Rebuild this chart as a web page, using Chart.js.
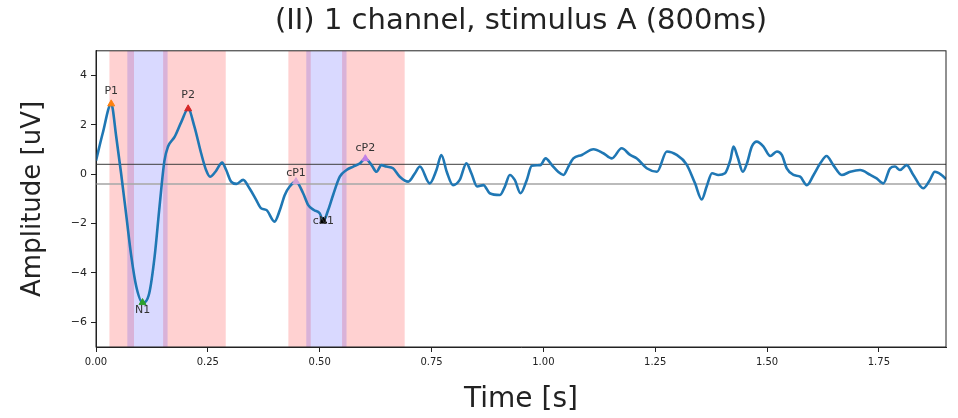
<!DOCTYPE html>
<html lang="en">
<head>
<meta charset="UTF-8">
<title>(II) 1 channel, stimulus A (800ms)</title>
<script src="https://cdn.jsdelivr.net/npm/chart.js"></script>
<style>
  html, body { margin: 0; padding: 0; background: #fff; }
  #wrap { width: 958px; height: 418px; }
</style>
</head>
<body>
<div id="wrap"><canvas id="erp"></canvas></div>
<script>
// ERP trace: time (s) and amplitude (uV)
const times = [
  0.000, 0.015, 0.034, 0.045, 0.056, 0.068, 0.079, 0.090, 0.104, 0.119,
  0.131, 0.142, 0.153, 0.161, 0.176, 0.191, 0.206, 0.220, 0.235, 0.246,
  0.255, 0.267, 0.282, 0.291, 0.302, 0.314, 0.329, 0.343, 0.358, 0.369,
  0.381, 0.399, 0.411, 0.422, 0.433, 0.447, 0.463, 0.474, 0.487, 0.500,
  0.508, 0.519, 0.530, 0.545, 0.560, 0.575, 0.590, 0.602, 0.616, 0.627,
  0.638, 0.649, 0.664, 0.679, 0.698, 0.713, 0.724, 0.746, 0.761, 0.772,
  0.784, 0.798, 0.813, 0.828, 0.839, 0.852, 0.866, 0.880, 0.903, 0.914,
  0.925, 0.936, 0.949, 0.963, 0.974, 0.993, 1.005, 1.019, 1.033, 1.045,
  1.056, 1.067, 1.086, 1.112, 1.134, 1.153, 1.175, 1.194, 1.209, 1.231,
  1.254, 1.276, 1.298, 1.320, 1.339, 1.354, 1.365, 1.377, 1.391, 1.406,
  1.418, 1.425, 1.434, 1.446, 1.455, 1.466, 1.477, 1.492, 1.507, 1.522,
  1.533, 1.544, 1.559, 1.574, 1.589, 1.604, 1.619, 1.633, 1.648, 1.667,
  1.686, 1.708, 1.731, 1.745, 1.760, 1.775, 1.786, 1.797, 1.812, 1.827,
  1.849, 1.864, 1.875, 1.890, 1.900
];
const amplitude = [
  0.55, 1.66, 2.85, 1.55, 0.05, -1.72, -3.34, -4.55, -5.20, -4.82,
  -3.34, -1.31, 0.55, 1.12, 1.52, 2.13, 2.65, 1.93, 0.85, 0.17,
  -0.10, 0.10, 0.47, 0.17, -0.30, -0.39, -0.23, -0.57, -1.04, -1.38,
  -1.45, -1.92, -1.45, -0.84, -0.50, -0.30, -0.77, -1.24, -1.45, -1.58,
  -1.90, -1.45, -0.84, -0.10, 0.17, 0.31, 0.44, 0.63, 0.37, 0.10,
  0.37, 0.31, 0.24, -0.10, -0.30, 0.04, 0.31, -0.37, 0.17, 0.78,
  0.10, -0.44, -0.23, 0.44, 0.04, -0.50, -0.44, -0.77, -0.84, -0.50,
  -0.03, -0.23, -0.77, -0.23, 0.34, 0.37, 0.64, 0.37, 0.10, -0.03,
  0.31, 0.64, 0.78, 1.01, 0.85, 0.64, 1.05, 0.78, 0.64, 0.24,
  0.10, 0.92, 0.78, 0.40, -0.37, -1.02, -0.50, 0.04, -0.03, 0.04,
  0.58, 1.12, 0.71, 0.10, 0.44, 1.12, 1.32, 1.12, 0.74, 0.92,
  0.78, 0.24, -0.03, -0.10, -0.44, -0.03, 0.44, 0.74, 0.37, -0.03,
  0.10, 0.17, -0.03, -0.17, -0.37, 0.24, 0.31, 0.17, 0.37, -0.03,
  -0.57, -0.23, 0.10, -0.03, -0.20
];

// detected components
const peakNames = ['P1', 'N1', 'P2', 'cP1', 'cN1', 'cP2'];
const peakTimes = [0.034, 0.104, 0.206, 0.447, 0.508, 0.602];
const peakAmps = [2.85, -5.20, 2.65, -0.30, -1.90, 0.63];
const peakColors = ['#ff7f0e', '#2ca02c', '#d62728', '#d6a2d6', '#000000', '#c07fe6'];

// search windows (s)
const redWindows = [[0.03, 0.085], [0.15, 0.29], [0.43, 0.48], [0.55, 0.69]];
const blueWindows = [[0.07, 0.16], [0.47, 0.56]];

// threshold lines (uV)
const thresholds = [0.4, -0.4];

const xMin = 0, xMax = 1.9;
const yMin = -7, yMax = 5;
const xTicks = [0, 0.25, 0.5, 0.75, 1.0, 1.25, 1.5, 1.75];
const xTickLabels = ['0.00', '0.25', '0.50', '0.75', '1.00', '1.25', '1.50', '1.75'];
const yTicks = [-6, -4, -2, 0, 2, 4];
const yTickLabels = ['\u22126', '\u22124', '\u22122', '0', '2', '4'];

const FONT = "'DejaVu Sans', sans-serif";

// shaded windows behind the trace, labels + full frame on top
const decorPlugin = {
  id: 'decor',
  beforeDatasetsDraw(chart) {
    const { ctx, chartArea: a, scales: { x } } = chart;
    ctx.save();
    ctx.beginPath();
    ctx.rect(a.left, a.top, a.right - a.left, a.bottom - a.top);
    ctx.clip();
    const band = (w, color) => {
      const x0 = x.getPixelForValue(w[0]);
      const x1 = x.getPixelForValue(w[1]);
      ctx.fillStyle = color;
      ctx.fillRect(x0, a.top, x1 - x0, a.bottom - a.top);
    };
    redWindows.forEach(w => band(w, 'rgba(255,0,0,0.18)'));
    blueWindows.forEach(w => band(w, 'rgba(0,0,255,0.15)'));
    ctx.restore();
  },
  afterDatasetsDraw(chart) {
    const { ctx, chartArea: a, scales: { x, y } } = chart;
    const shift = { P1: -13, N1: 8, P2: -14, cP1: -8, cN1: 0, cP2: -11 };
    ctx.save();
    ctx.font = '11px ' + FONT;
    ctx.fillStyle = '#333';
    ctx.textAlign = 'center';
    ctx.textBaseline = 'middle';
    peakNames.forEach((name, i) => {
      const px = x.getPixelForValue(peakTimes[i]);
      const py = y.getPixelForValue(peakAmps[i]);
      ctx.fillText(name, px, py + shift[name]);
    });
    // matplotlib-style box around the axes
    ctx.strokeStyle = '#222';
    ctx.lineWidth = 1;
    ctx.strokeRect(a.left, a.top, a.right - a.left, a.bottom - a.top);
    ctx.restore();
  }
};

const ctx = document.getElementById('erp').getContext('2d');
new Chart(ctx, {
  type: 'line',
  data: {
    datasets: [
      {
        label: 'peaks',
        data: peakTimes.map((t, i) => ({ x: t, y: peakAmps[i] })),
        showLine: false,
        pointStyle: 'triangle',
        pointRadius: 4,
        pointBackgroundColor: peakColors,
        pointBorderColor: peakColors,
        pointBorderWidth: 1
      },
      {
        label: 'trace',
        data: times.map((t, i) => ({ x: t, y: amplitude[i] })),
        borderColor: '#1f77b4',
        borderWidth: 2.6,
        pointRadius: 0,
        cubicInterpolationMode: 'monotone'
      },
      {
        label: 'upper',
        data: [{ x: xMin, y: thresholds[0] }, { x: xMax, y: thresholds[0] }],
        borderColor: 'rgba(60,60,60,0.8)',
        borderWidth: 1.2,
        pointRadius: 0
      },
      {
        label: 'lower',
        data: [{ x: xMin, y: thresholds[1] }, { x: xMax, y: thresholds[1] }],
        borderColor: 'rgba(170,170,170,0.8)',
        borderWidth: 2,
        pointRadius: 0
      }
    ]
  },
  options: {
    responsive: true,
    maintainAspectRatio: false,
    animation: false,
    layout: { padding: { left: 0, right: 12, top: 0, bottom: 0 } },
    plugins: {
      legend: { display: false },
      tooltip: { enabled: false },
      title: {
        display: true,
        fullSize: false,
        text: '(II) 1 channel, stimulus A (800ms)',
        font: { family: FONT, size: 29, weight: 'normal' },
        color: '#222',
        padding: { top: 4, bottom: 12 }
      }
    },
    scales: {
      x: {
        type: 'linear',
        min: xMin,
        max: xMax,
        afterBuildTicks: s => { s.ticks = xTicks.map(v => ({ value: v })); },
        afterFit: s => { s.height = 71; },
        ticks: {
          callback: (v, i) => xTickLabels[i],
          font: { family: FONT, size: 10 },
          color: '#222',
          padding: 4,
          maxRotation: 0,
          autoSkip: false
        },
        grid: { drawOnChartArea: false, drawTicks: true, tickLength: 5, color: '#222' },
        border: { display: true, color: '#222' },
        title: {
          display: true,
          text: 'Time [s]',
          font: { family: FONT, size: 28 },
          color: '#222',
          padding: { top: 0, bottom: 1 }
        }
      },
      y: {
        min: yMin,
        max: yMax,
        afterBuildTicks: s => { s.ticks = yTicks.map(v => ({ value: v })); },
        afterFit: s => { s.width = 96; },
        ticks: {
          callback: (v, i) => yTickLabels[i],
          font: { family: FONT, size: 11 },
          color: '#222',
          padding: 4,
          autoSkip: false
        },
        grid: { drawOnChartArea: false, drawTicks: true, tickLength: 5, color: '#222' },
        border: { display: true, color: '#222' },
        title: {
          display: true,
          text: 'Amplitude [uV]',
          font: { family: FONT, size: 26 },
          color: '#222',
          padding: { top: 18, bottom: 0 }
        }
      }
    }
  },
  plugins: [decorPlugin]
});
</script>
</body>
</html>
